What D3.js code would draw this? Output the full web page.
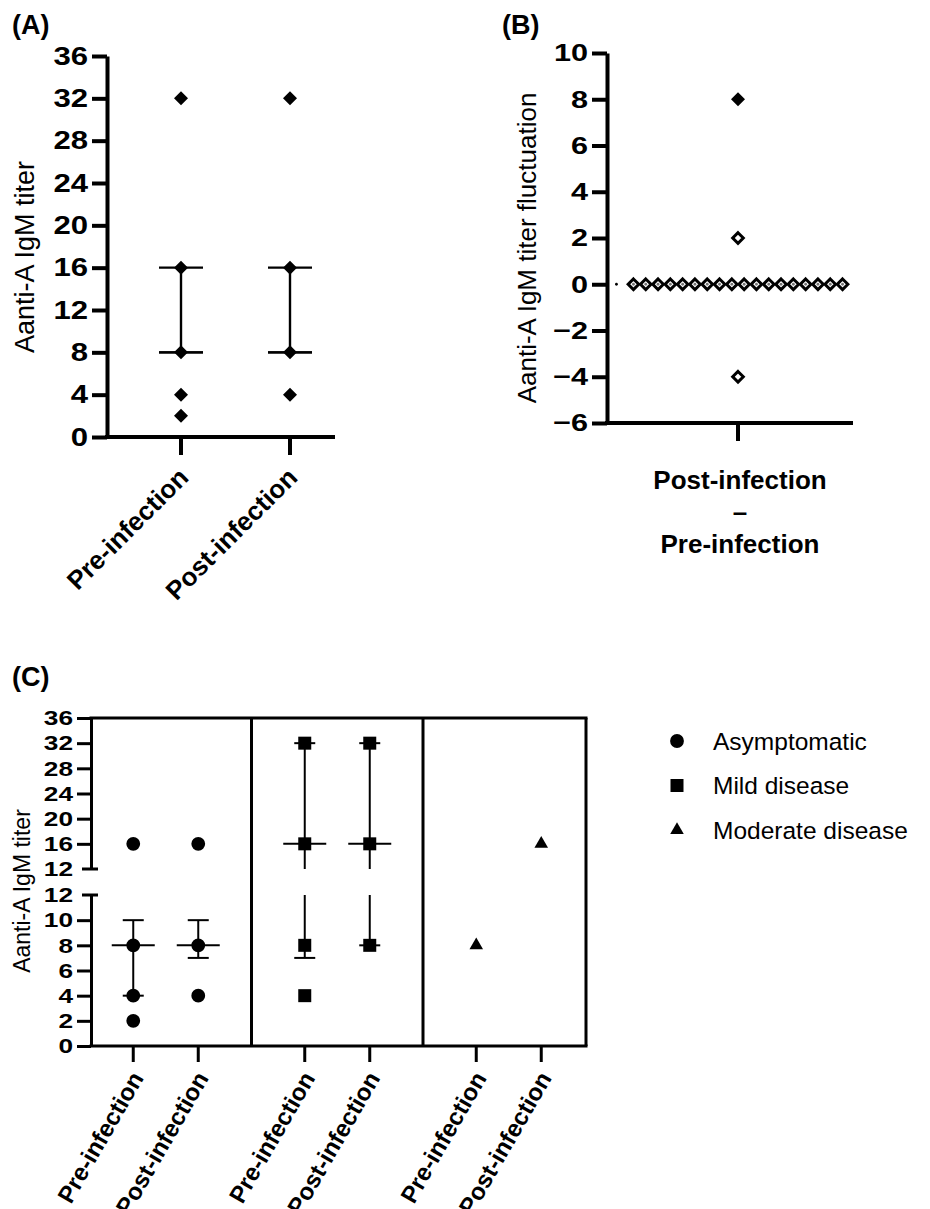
<!DOCTYPE html>
<html><head><meta charset="utf-8">
<script src="https://cdn.jsdelivr.net/npm/d3@7"></script>
<style>
body{margin:0;background:#fff}
svg{display:block}
text{font-family:"Liberation Sans",Arial,Helvetica,sans-serif;fill:#000}
</style>
</head><body>
<svg id="c" width="930" height="1209"></svg>
<script>
// ---------------- DATA ----------------
const phases = ["Pre-infection", "Post-infection"];

// Panel A
const titerTicksA = [0, 4, 8, 12, 16, 20, 24, 28, 32, 36];
const preA = [32, 16, 8, 4, 2];
const postA = [32, 16, 8, 4];
const statsA = [
  {phase: "Pre-infection", q1: 8, median: 8, q3: 16},
  {phase: "Post-infection", q1: 8, median: 8, q3: 16}
];

// Panel B
const fluctLabel = ["Post-infection", "–", "Pre-infection"];
const fluctTicks = [-6, -4, -2, 0, 2, 4, 6, 8, 10];
const fluctValues = [8, 2, -4, 0, 0, 0, 0, 0, 0, 0, 0, 0, 0, 0, 0, 0, 0, 0, 0, 0, 0];
const fluctFilled = [true, false, false, false, false, false, false, false, false, false, false, false, false, false, false, false, false, false, false, false, false];
const fluctMedian = 0;

// Panel C
const groups = ["Asymptomatic", "Mild disease", "Moderate disease"];
const asympPre = [16, 8, 4, 2];
const asympPost = [16, 8, 4];
const mildPre = [32, 16, 8, 4];
const mildPost = [32, 16, 8];
const modPre = [8];
const modPost = [16];
const statsC = [
  {group: "Asymptomatic", phase: "Pre-infection", q1: 4, median: 8, q3: 10},
  {group: "Asymptomatic", phase: "Post-infection", q1: 7, median: 8, q3: 10},
  {group: "Mild disease", phase: "Pre-infection", q1: 7, median: 16, q3: 32},
  {group: "Mild disease", phase: "Post-infection", q1: 8, median: 16, q3: 32}
];
const lowTicksC = [0, 2, 4, 6, 8, 10, 12];
const highTicksC = [12, 16, 20, 24, 28, 32, 36];
const breakAt = 12;

// ---------------- HELPERS ----------------
const svg = d3.select("#c");
const diamond = h => `M0,${-h}L${h},0L0,${h}L${-h},0Z`;
function stretch(sel, k) {
  sel.each(function () {
    const L = this.getComputedTextLength();
    this.setAttribute("textLength", L * k);
    this.setAttribute("lengthAdjust", "spacingAndGlyphs");
  });
}
function styleAxis(g, sw, fs, k) {
  g.attr("font-family", null).attr("font-size", null);
  g.select(".domain").attr("stroke", "#000").attr("stroke-width", sw);
  g.selectAll(".tick line").attr("stroke", "#000").attr("stroke-width", sw);
  const t = g.selectAll(".tick text").attr("font-size", fs).attr("font-weight", "bold").attr("fill", "#000");
  stretch(t, k);
}
function vline(g, x, y1, y2, sw) {
  g.append("line").attr("x1", x).attr("x2", x).attr("y1", y1).attr("y2", y2).attr("stroke", "#000").attr("stroke-width", sw);
}
function hline(g, x1, x2, y, sw) {
  g.append("line").attr("x1", x1).attr("x2", x2).attr("y1", y).attr("y2", y).attr("stroke", "#000").attr("stroke-width", sw);
}
const minusFmt = d => (d < 0 ? "\u2212" + Math.abs(d) : String(d));

// ---------------- PANEL A ----------------
const A = {x0: 107, x1: 335, y0: 56, y1: 437};
const yA = d3.scaleLinear().domain([0, 36]).range([A.y1, A.y0]);
const xA = d3.scalePoint().domain(phases).range([181, 290]);
const gA = svg.append("g");
gA.append("text").attr("x", 12).attr("y", 34).attr("font-size", 27).attr("font-weight", "bold").text("(A)");
gA.append("text").attr("transform", `translate(25,257) rotate(-90)`)
  .attr("text-anchor", "middle").attr("dy", "0.35em").attr("font-size", 27).text("Aanti-A IgM titer");
const axA = gA.append("g").attr("transform", `translate(${A.x0},0)`)
  .call(d3.axisLeft(yA).tickValues(titerTicksA).tickSize(15).tickSizeOuter(0).tickPadding(4));
styleAxis(axA, 4, 25.5, 1.22);
hline(gA, A.x0 - 2, A.x1, yA(0), 4);
phases.forEach(p => {
  vline(gA, xA(p), yA(0), yA(0) + 18, 4);
  gA.append("text").attr("transform", `translate(${xA(p) + 9},${yA(0) + 42}) rotate(-45)`)
    .attr("text-anchor", "end").attr("font-size", 26).attr("font-weight", "bold").text(p);
});
statsA.forEach(s => {
  const x = xA(s.phase);
  vline(gA, x, yA(s.q1), yA(s.q3), 2.4);
  hline(gA, x - 22, x + 22, yA(s.q1), 2.4);
  hline(gA, x - 22, x + 22, yA(s.q3), 2.4);
  hline(gA, x - 22, x + 22, yA(s.median), 2.4);
});
[[phases[0], preA], [phases[1], postA]].forEach(([p, vals]) => {
  gA.selectAll(null).data(vals).enter().append("path")
    .attr("d", diamond(7)).attr("fill", "#000")
    .attr("transform", d => `translate(${xA(p)},${yA(d)})`);
});

// ---------------- PANEL B ----------------
const B = {x0: 607, x1: 853, y0: 53, y1: 423};
const yB = d3.scaleLinear().domain([-6, 10]).range([B.y1, B.y0]);
const xB = d3.scalePoint().domain([fluctLabel.join(" ")]).range([B.x0, 869]).padding(0.5);
const cB = xB(fluctLabel.join(" "));
const gB = svg.append("g");
gB.append("text").attr("x", 502).attr("y", 34).attr("font-size", 27).attr("font-weight", "bold").text("(B)");
gB.append("text").attr("transform", `translate(527,248) rotate(-90)`)
  .attr("text-anchor", "middle").attr("dy", "0.35em").attr("font-size", 26).text("Aanti-A IgM titer fluctuation");
const axB = gB.append("g").attr("transform", `translate(${B.x0},0)`)
  .call(d3.axisLeft(yB).tickValues(fluctTicks).tickFormat(minusFmt).tickSize(15).tickSizeOuter(0).tickPadding(4));
styleAxis(axB, 4, 24.5, 1.25);
hline(gB, B.x0 - 2, B.x1, B.y1, 4);
vline(gB, cB, B.y1, B.y1 + 18, 4);
fluctLabel.forEach((t, i) => {
  gB.append("text").attr("x", cB + 2).attr("y", 489 + i * 32).attr("text-anchor", "middle")
    .attr("font-size", 26).attr("font-weight", "bold").text(t);
});
// swarm layout
const counts = {};
fluctValues.forEach(v => counts[v] = (counts[v] || 0) + 1);
const seen = {};
const spacing = 12.3;
const ptsB = fluctValues.map((v, i) => {
  const k = seen[v] = (seen[v] === undefined ? 0 : seen[v] + 1);
  return {v, filled: fluctFilled[i], x: cB + (k - (counts[v] - 1) / 2) * spacing};
});
const medRow = ptsB.filter(p => p.v === fluctMedian);
const mx0 = d3.min(medRow, p => p.x);
// median marker seen through the open diamonds
gB.append("circle").attr("cx", mx0 - 17).attr("cy", yB(fluctMedian)).attr("r", 1.4).attr("fill", "#000");
gB.selectAll(null).data(medRow).enter().append("circle")
  .attr("cx", d => d.x).attr("cy", yB(fluctMedian)).attr("r", 1.4).attr("fill", "#777");
gB.selectAll(null).data(ptsB.filter(p => !p.filled)).enter().append("path")
  .attr("d", diamond(5.3)).attr("fill", "none").attr("stroke", "#000").attr("stroke-width", 3)
  .attr("stroke-linejoin", "miter")
  .attr("transform", d => `translate(${d.x},${yB(d.v)})`);
gB.selectAll(null).data(ptsB.filter(p => p.filled)).enter().append("path")
  .attr("d", diamond(7)).attr("fill", "#000")
  .attr("transform", d => `translate(${d.x},${yB(d.v)})`);

// ---------------- PANEL C ----------------
const C = {x0: 91, x1: 586, yTop: 718, yBot: 1046, yBrkHi: 869, yBrkLo: 895};
const yHigh = d3.scaleLinear().domain([breakAt, 36]).range([C.yBrkHi, C.yTop]);
const yLow = d3.scaleLinear().domain([0, breakAt]).range([C.yBot, C.yBrkLo]);
const yC = v => (v > breakAt ? yHigh(v) : yLow(v));
const xGroup = d3.scaleBand().domain(groups).range([80, 594.5]);
const xPhase = d3.scalePoint().domain(phases).range([-32.5, 32.5]);
const xC = (g, p) => xGroup(g) + xGroup.bandwidth() / 2 + xPhase(p);
const gC = svg.append("g");
gC.append("text").attr("x", 12).attr("y", 686).attr("font-size", 27).attr("font-weight", "bold").text("(C)");
gC.append("text").attr("transform", `translate(22,891) rotate(-90)`)
  .attr("text-anchor", "middle").attr("dy", "0.35em").attr("font-size", 23).text("Aanti-A IgM titer");
[[yHigh, highTicksC], [yLow, lowTicksC]].forEach(([sc, tv]) => {
  const ax = gC.append("g").attr("transform", `translate(${C.x0},0)`)
    .call(d3.axisLeft(sc).tickValues(tv).tickSize(14).tickSizeOuter(0).tickPadding(4));
  styleAxis(ax, 3, 21, 1.25);
  ax.selectAll(".tick").filter(d => d === breakAt).select("line").remove();
});
hline(gC, C.x0 - 9, C.x0 + 7, C.yBrkHi, 3);
hline(gC, C.x0 - 9, C.x0 + 7, C.yBrkLo, 3);
// frame
hline(gC, C.x0 - 1.5, C.x1 + 1.5, C.yTop, 3);
hline(gC, C.x0 - 1.5, C.x1 + 1.5, C.yBot, 3);
vline(gC, C.x1, C.yTop, C.yBot, 3);
groups.slice(1).forEach(g => vline(gC, xGroup(g), C.yTop, C.yBot, 3));
// x ticks + labels
groups.forEach(g => phases.forEach(p => {
  const x = xC(g, p);
  vline(gC, x, C.yBot, C.yBot + 16, 3);
  gC.append("text").attr("transform", `translate(${x + 11},${C.yBot + 32}) rotate(-60)`)
    .attr("text-anchor", "end").attr("font-size", 24).attr("font-weight", "bold").text(p);
}));
// error bars
statsC.forEach(s => {
  const x = xC(s.group, s.phase);
  if (s.q1 < breakAt) vline(gC, x, yLow(s.q1), yLow(Math.min(s.q3, breakAt)), 2);
  if (s.q3 > breakAt) vline(gC, x, yHigh(Math.max(s.q1, breakAt)), yHigh(s.q3), 2);
  hline(gC, x - 10.5, x + 10.5, yC(s.q1), 2);
  hline(gC, x - 10.5, x + 10.5, yC(s.q3), 2);
  hline(gC, x - 21.5, x + 21.5, yC(s.median), 2);
});
// points
const symC = {
  "Asymptomatic": d3.symbol().type(d3.symbolCircle).size(150),
  "Mild disease": d3.symbol().type(d3.symbolSquare).size(169),
  "Moderate disease": d3.symbol().type(d3.symbolTriangle).size(80)
};
const seriesC = [
  ["Asymptomatic", phases[0], asympPre], ["Asymptomatic", phases[1], asympPost],
  ["Mild disease", phases[0], mildPre], ["Mild disease", phases[1], mildPost],
  ["Moderate disease", phases[0], modPre], ["Moderate disease", phases[1], modPost]
];
seriesC.forEach(([g, p, vals]) => {
  gC.selectAll(null).data(vals).enter().append("path")
    .attr("d", symC[g]()).attr("fill", "#000")
    .attr("transform", d => `translate(${xC(g, p)},${yC(d)})`);
});
// legend
const yLeg = d3.scalePoint().domain(groups).range([741, 830]);
groups.forEach(g => {
  gC.append("path").attr("d", symC[g]()).attr("fill", "#000").attr("transform", `translate(677,${yLeg(g)})`);
  gC.append("text").attr("x", 713).attr("y", yLeg(g)).attr("dy", "0.35em").attr("font-size", 24.5).text(g);
});
</script>
</body></html>
